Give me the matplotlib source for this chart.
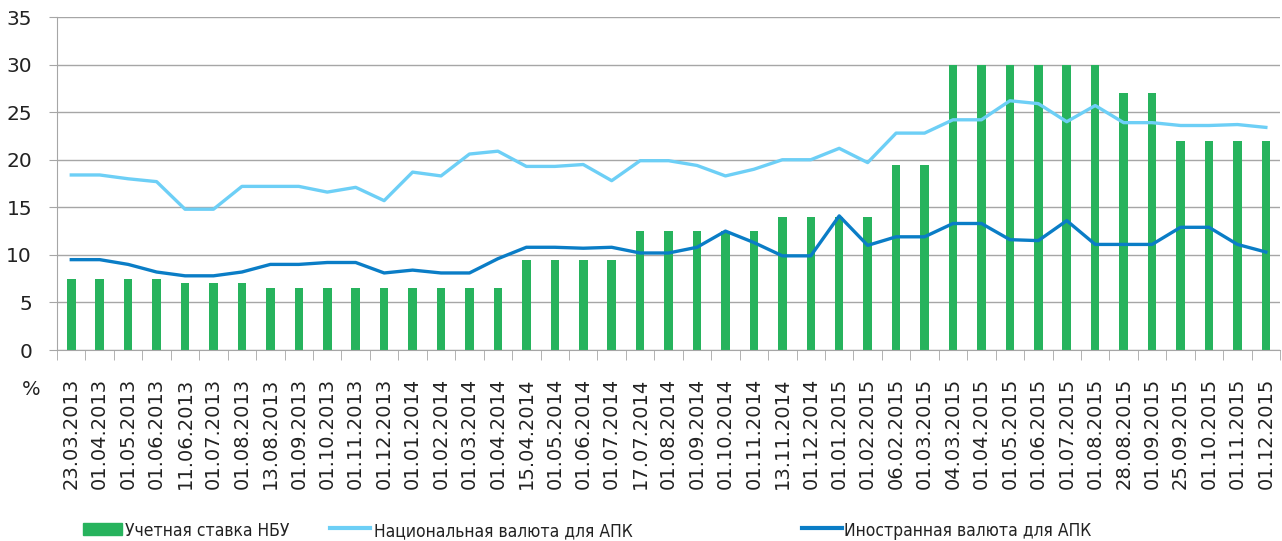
import numpy as np
import matplotlib
matplotlib.use("Agg")
from matplotlib import pyplot as plt
from matplotlib.lines import Line2D
from matplotlib.patches import Rectangle

dates = ["23.03.2013", "01.04.2013", "01.05.2013", "01.06.2013", "11.06.2013",
         "01.07.2013", "01.08.2013", "13.08.2013", "01.09.2013", "01.10.2013",
         "01.11.2013", "01.12.2013", "01.01.2014", "01.02.2014", "01.03.2014",
         "01.04.2014", "15.04.2014", "01.05.2014", "01.06.2014", "01.07.2014",
         "17.07.2014", "01.08.2014", "01.09.2014", "01.10.2014", "01.11.2014",
         "13.11.2014", "01.12.2014", "01.01.2015", "01.02.2015", "06.02.2015",
         "01.03.2015", "04.03.2015", "01.04.2015", "01.05.2015", "01.06.2015",
         "01.07.2015", "01.08.2015", "28.08.2015", "01.09.2015", "25.09.2015",
         "01.10.2015", "01.11.2015", "01.12.2015"]

# discount rate of the NBU
nbu_rate = [7.5, 7.5, 7.5, 7.5, 7.0, 7.0, 7.0, 6.5, 6.5, 6.5,
            6.5, 6.5, 6.5, 6.5, 6.5, 6.5, 9.5, 9.5, 9.5, 9.5,
            12.5, 12.5, 12.5, 12.5, 12.5, 14.0, 14.0, 14.0, 14.0, 19.5,
            19.5, 30.0, 30.0, 30.0, 30.0, 30.0, 30.0, 27.0, 27.0, 22.0,
            22.0, 22.0, 22.0]

# national currency loans
national = [18.4, 18.4, 18.0, 17.7, 14.8, 14.8, 17.2, 17.2, 17.2, 16.6,
            17.1, 15.7, 18.7, 18.3, 20.6, 20.9, 19.3, 19.3, 19.5, 17.8,
            19.9, 19.9, 19.4, 18.3, 19.0, 20.0, 20.0, 21.2, 19.7, 22.8,
            22.8, 24.2, 24.2, 26.2, 25.9, 24.0, 25.7, 23.9, 23.9, 23.6,
            23.6, 23.7, 23.4]

# foreign currency loans
foreign = [9.5, 9.5, 9.0, 8.2, 7.8, 7.8, 8.2, 9.0, 9.0, 9.2,
           9.2, 8.1, 8.4, 8.1, 8.1, 9.6, 10.8, 10.8, 10.7, 10.8,
           10.2, 10.2, 10.8, 12.5, 11.3, 9.9, 9.9, 14.1, 11.0, 11.9,
           11.9, 13.3, 13.3, 11.6, 11.5, 13.6, 11.1, 11.1, 11.1, 12.9,
           12.9, 11.1, 10.3]

labels = ["Учетная ставка НБУ", "Национальная валюта для АПК",
          "Иностранная валюта для АПК"]

green = "#27b35d"
light_blue = "#6dcff6"
dark_blue = "#0a7dc6"
grey = "#a6a6a6"

W, H = 1282, 541
fig = plt.figure(figsize=(W / 100, H / 100), dpi=100)
ax = fig.add_axes([0.0445, 0.353, 0.954, 0.6155])

x = np.arange(len(dates))
ax.bar(x, nbu_rate, width=0.3, color=green, zorder=2)
ax.plot(x, national, color=light_blue, lw=2.4, zorder=3)
ax.plot(x, foreign, color=dark_blue, lw=2.4, zorder=4)

ax.set_xlim(-0.5, len(dates) - 0.5)
ax.set_ylim(0, 35)
ax.set_yticks(range(0, 36, 5))
ax.yaxis.grid(True, color=grey, lw=1)
ax.set_axisbelow(True)
for s in ["top", "right"]:
    ax.spines[s].set_visible(False)
ax.spines["left"].set_color(grey)
ax.spines["bottom"].set_color(grey)
ax.tick_params(axis="y", length=6, color=grey, labelsize=14.5, pad=12,
               labelcolor="#222222")

# category labels, tick marks between categories (Excel style)
ax.set_xticks(x)
ax.set_xticklabels(dates, rotation=90, fontsize=14, color="#222222")
ax.tick_params(axis="x", length=0, pad=20)
ax.set_xticks(np.arange(-0.5, len(dates)), minor=True)
ax.tick_params(axis="x", which="minor", length=7, color=grey)

fig.text(0.017, 0.27, "%", fontsize=14, color="#222222")

# legend drawn by hand in figure pixels (y from top)
def fx(px):
    return px / W

def fy(py):
    return 1 - py / H

font = {"family": "DejaVu Sans", "stretch": "condensed", "size": 12.5}
fig.add_artist(Rectangle((fx(83), fy(535)), fx(122) - fx(83), fy(523) - fy(535),
                         color=green, transform=fig.transFigure))
fig.add_artist(Line2D([fx(330), fx(370)], [fy(528), fy(528)], color=light_blue,
                      lw=3, transform=fig.transFigure))
fig.add_artist(Line2D([fx(802), fx(842)], [fy(528), fy(528)], color=dark_blue,
                      lw=3, transform=fig.transFigure))
for lab, px in zip(labels, [125, 374, 844]):
    fig.text(fx(px), fy(536), lab, va="baseline", ha="left", color="#222222",
             fontproperties=font)

fig.savefig("out.png", dpi=100)
